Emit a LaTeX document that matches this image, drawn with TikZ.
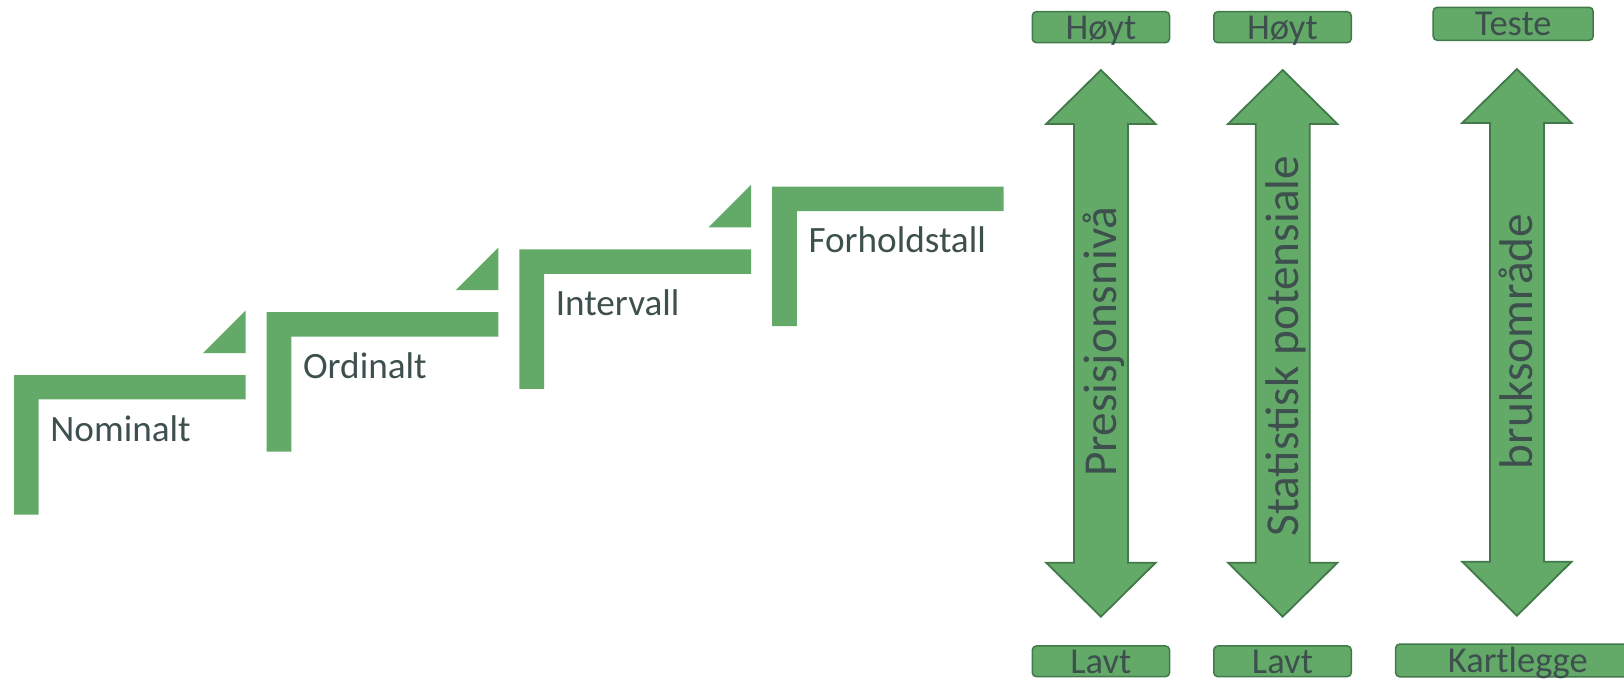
\documentclass[tikz,border=0pt]{standalone}
\usepackage{fontspec}
\setmainfont{Carlito}
\definecolor{stepgreen}{HTML}{63AA69}
\definecolor{edgegreen}{HTML}{42794A}
\definecolor{labelgrey}{HTML}{3E504D}

\begin{document}
\begin{tikzpicture}[x=1pt,y=-1pt,
        steplabel/.style={anchor=base west,inner sep=0pt,text=labelgrey,font=\fontsize{37.2}{40}\selectfont},
        valbox/.style={draw=edgegreen,fill=stepgreen,line width=1.5pt,rounded corners=4pt,inner sep=0pt,text height=24pt,text depth=0pt,text=labelgrey,font=\fontsize{36.5}{40}\selectfont},
        arrowlabel/.style={rotate=90,anchor=base,inner sep=0pt,text=labelgrey,font=\fontsize{47.3}{50}\selectfont}]
        \useasboundingbox (0,0) rectangle (1624,680);
        \clip (0,0) rectangle (1624,680);
        % stairs
        \foreach \i/\name/\txt in {0/nominalt/Nominalt,1/ordinalt/Ordinalt,2/intervall/Intervall,3/forhold/Forholdstall} {
            \fill[stepgreen] ({14+252.7*\i},{375-62.8*\i}) -- ++(231.6,0) -- ++(0,24.4) -- ++(-206.9,0) -- ++(0,115.1) -- ++(-24.7,0) -- cycle;
            \node[steplabel] (\name) at ({50.2+252.7*\i},{441-62.8*\i}) {\txt};
        }
        \foreach \i in {0,1,2}
            \fill[stepgreen] ({245.6+252.7*\i},{353-62.8*\i}) -- ++(0,-42.6) -- ++(-42.6,42.6) -- cycle;
        % double arrows
        \foreach \x/\t in {1100.9/70,1282.7/70,1516.9/69}
            \draw[fill=stepgreen,draw=edgegreen,line width=1.8pt] (\x,\t) -- ++(54.7,54) -- ++(-27.7,0) -- ++(0,438.7) -- ++(27.7,0) -- ++(-54.7,54) -- ++(-54.7,-54) -- ++(27.7,0) -- ++(0,-438.7) -- ++(-27.7,0) -- cycle;
        \node[arrowlabel] (presisjon) at (1116.6,341.7) {Presisjonsnivå};
        \node[arrowlabel] (statistisk) at (1298.4,346) {Statistisk potensiale};
        \node[arrowlabel] (bruk) at (1532.6,341.5) {bruksområde};
        % end boxes
        \node[valbox,minimum width=137.2pt,minimum height=31pt] (hoyt1) at (1100.9,27.2) {Høyt};
        \node[valbox,minimum width=137.5pt,minimum height=31pt] (hoyt2) at (1282.5,27.2) {Høyt};
        \node[valbox,minimum width=160pt,minimum height=33pt] (teste) at (1513.2,23.8) {Teste};
        \node[valbox,minimum width=137.2pt,minimum height=30.7pt] (lavt1) at (1100.9,661.3) {Lavt};
        \node[valbox,minimum width=137.5pt,minimum height=30.7pt] (lavt2) at (1282.5,661.3) {Lavt};
        \node[valbox,minimum width=244.4pt,minimum height=32.7pt] (kartlegge) at (1517.8,660.4) {Kartlegge};
\end{tikzpicture}
\end{document}
